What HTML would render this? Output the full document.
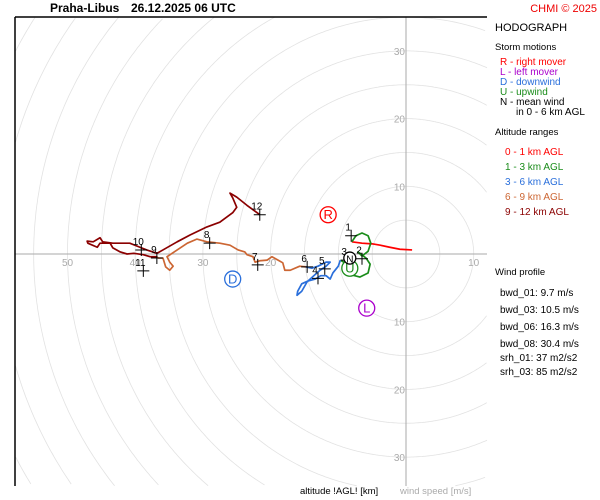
<!DOCTYPE html>
<html><head><meta charset="utf-8"><style>
html,body{margin:0;padding:0;background:#fff;width:600px;height:500px;overflow:hidden;}
svg{display:block;font-family:"Liberation Sans",sans-serif;overflow:hidden;}
</style></head><body>
<svg id="c" width="600" height="500" viewBox="0 0 600 500" xmlns="http://www.w3.org/2000/svg">
<rect x="0" y="0" width="600" height="500" fill="#fff"/>
<g id="rings"></g>
<line x1="15" y1="254" x2="487" y2="254" stroke="#aaa" stroke-width="1"/>
<line x1="406" y1="17" x2="406" y2="486" stroke="#aaa" stroke-width="1"/>
<g id="ticklabels" font-size="10" fill="#aaa"></g>
<g id="traces"></g>
<g id="markers" font-size="10"></g>
<g id="storms" font-size="11"></g>
<line x1="15" y1="17" x2="487" y2="17" stroke="#000" stroke-width="1.5"/>
<line x1="15" y1="17" x2="15" y2="486" stroke="#000" stroke-width="1.5"/>
<text x="50" y="12" font-size="12" font-weight="bold">Praha-Libus</text>
<text x="131" y="12" font-size="12" font-weight="bold">26.12.2025 06 UTC</text>
<text x="597" y="12" font-size="11" fill="#e00" text-anchor="end">CHMI © 2025</text>
<g font-size="10">
<text x="495" y="31" font-size="11">HODOGRAPH</text>
<text x="495" y="50" font-size="9.5">Storm motions</text>
<text x="500" y="65" fill="#f00">R - right mover</text>
<text x="500" y="75" fill="#a0c">L - left mover</text>
<text x="500" y="85" fill="#2a6fdb">D - downwind</text>
<text x="500" y="95" fill="#1a8c1a">U - upwind</text>
<text x="500" y="105" fill="#000">N - mean wind</text>
<text x="516" y="115" fill="#000">in 0 - 6 km AGL</text>
<text x="495" y="135" font-size="9.5">Altitude ranges</text>
<text x="505" y="155" fill="#f00">0 - 1 km AGL</text>
<text x="505" y="170" fill="#1a8c1a">1 - 3 km AGL</text>
<text x="505" y="185" fill="#2a6fdb">3 - 6 km AGL</text>
<text x="505" y="200" fill="#cc6633">6 - 9 km AGL</text>
<text x="505" y="215" fill="#8b0000">9 - 12 km AGL</text>
<text x="495" y="275" font-size="9.5">Wind profile</text>
<text x="500" y="296">bwd_01: 9.7 m/s</text>
<text x="500" y="313">bwd_03: 10.5 m/s</text>
<text x="500" y="330">bwd_06: 16.3 m/s</text>
<text x="500" y="347">bwd_08: 30.4 m/s</text>
<text x="500" y="361">srh_01: 37 m2/s2</text>
<text x="500" y="375">srh_03: 85 m2/s2</text>
</g>
<text x="300" y="494" font-size="9.5" fill="#000">altitude !AGL! [km]</text>
<text x="400" y="494" font-size="9.5" fill="#aaa">wind speed [m/s]</text>
</svg>
<script>
const ringSpeeds=[5,10,15,20,25,30,35,40,45,50,55,60,65,70,75];
const rightLabels=[10];
const leftLabels=[20,30,40,50];
const upLabels=[10,20,30];
const downLabels=[10,20,30];
const red_u=[0.9,-0.9,-2.4,-3.8,-5.0,-6.5,-8.0];
const red_v=[0.6,0.7,1.0,1.3,1.5,1.6,1.8];
const green_u=[-8.0,-7.4,-6.5,-5.6,-5.2,-5.6,-6.5,-7.1,-5.9,-5.3,-5.6,-6.8,-8.0,-8.9,-9.2,-9.7];
const green_v=[1.8,2.7,3.1,2.7,1.6,0.4,-0.3,0.3,-0.6,-1.5,-2.8,-3.4,-3.1,-2.4,-1.2,-0.9];
const blue_u=[-9.7,-10.0,-10.8,-11.2,-11.8,-12.6,-13.4,-14.5,-15.4,-16.0,-16.1,-15.4,-14.6,-13.6,-12.7,-11.8,-11.2,-11.8,-13.0,-13.9,-14.8];
const blue_v=[-0.9,-1.8,-2.8,-3.7,-3.2,-3.2,-3.7,-4.0,-4.4,-5.5,-6.1,-5.5,-4.1,-3.2,-2.4,-1.8,-1.2,-1.2,-1.8,-2.1,-1.9];
const orange_u=[-14.8,-15.7,-17.1,-17.9,-18.2,-18.9,-19.8,-20.5,-21.6,-22.3,-22.6,-23.5,-23.8,-24.8,-26.0,-27.5,-29.4,-30.9,-32.3,-33.8,-35.3,-34.9,-34.4,-34.9,-35.5,-35.9,-36.6,-36.8];
const orange_v=[-1.9,-1.8,-2.4,-2.4,-1.3,-0.9,-0.4,-0.9,-1.0,-1.2,-0.4,-0.1,0.3,0.6,1.3,1.6,1.8,2.2,1.6,0.6,-0.4,-1.2,-1.8,-2.4,-1.9,-0.6,-0.6,-0.4];
const dred_u=[-36.8,-37.8,-38.8,-40.2,-41.2,-42.2,-43.3,-43.7,-45.2,-45.6,-47.0,-47.1,-46.2,-45.2,-44.8,-43.3,-40.8,-39.3,-38.3,-36.8,-35.9,-33.8,-31.9,-29.4,-27.5,-25.6,-25.0,-25.6,-26.0,-25.0,-23.5,-21.6];
const dred_v=[-0.4,-0.4,-0.1,0.1,0.0,0.3,0.9,1.6,1.6,1.0,1.6,1.9,1.8,2.4,1.8,1.6,1.6,1.0,0.6,0.1,0.6,1.8,2.8,4.0,4.7,6.1,6.9,8.3,9.0,8.4,7.2,5.8];
const markerLabels=["1","2","3","4","5","6","7","8","9","10","11","12"];
const marker_u=[-8.1,-6.5,-8.7,-13.0,-12.0,-14.6,-21.9,-29.0,-36.8,-39.1,-38.8,-21.6];
const marker_v=[2.7,-0.7,-0.9,-3.6,-2.2,-1.9,-1.6,1.6,-0.6,0.6,-2.5,5.8];
const stormLabels=["R","L","D","U","N"];
const storm_u=[-11.5,-5.8,-25.6,-8.3,-8.3];
const storm_v=[5.8,-8.0,-3.7,-2.1,-0.6];

const CX=406,CY=254,K=6.77;
const BX0=15,BX1=487,BY0=17,BY1=486;
const X=u=>CX+u*K, Y=v=>CY-v*K;
const NS='http://www.w3.org/2000/svg';
function mk(tag,parent){const e=document.createElementNS(NS,tag);parent.appendChild(e);return e;}
const rings=document.getElementById('rings');
ringSpeeds.forEach(s=>{
  const r=s*K;let d='';let pen=false;
  for(let i=0;i<=720;i++){const a=i/720*2*Math.PI;const x=CX+r*Math.cos(a),y=CY+r*Math.sin(a);
    const inside=x>=BX0&&x<=BX1&&y>=BY0&&y<=BY1;
    if(inside){d+=(pen?'L':'M')+x.toFixed(1)+','+y.toFixed(1);pen=true;}else pen=false;}
  if(!d)return;
  const c=mk('path',rings);
  
  
  c.setAttribute('d',d);c.setAttribute('fill','none');c.setAttribute('stroke','#e2e2e2');c.setAttribute('stroke-width','0.8');});
const tl=document.getElementById('ticklabels');
function lab(x,y,t,anchor){const e=mk('text',tl);


e.setAttribute('x',x);e.setAttribute('y',y);e.setAttribute('text-anchor',anchor);e.textContent=t;}
rightLabels.forEach(s=>lab(X(s),CY+12,s,'middle'));
leftLabels.forEach(s=>lab(X(-s),CY+12,s,'middle'));
upLabels.forEach(s=>lab(CX-1,Y(s)+4,s,'end'));
downLabels.forEach(s=>lab(CX-1,Y(-s)+4,s,'end'));
const tr=document.getElementById('traces');
function trace(us,vs,col,name){const p=mk('polyline',tr);


p.setAttribute('points',us.map((u,i)=>X(u)+','+Y(vs[i])).join(' '));p.setAttribute('fill','none');p.setAttribute('stroke',col);p.setAttribute('stroke-width','1.7');p.setAttribute('stroke-linejoin','round');}
trace(red_u,red_v,'#f00','trace-0-1km');
trace(green_u,green_v,'#1a8c1a','trace-1-3km');
trace(blue_u,blue_v,'#2a6fdb','trace-3-6km');
trace(orange_u,orange_v,'#cc6633','trace-6-9km');
trace(dred_u,dred_v,'#8b0000','trace-9-12km');
const mg=document.getElementById('markers');
markerLabels.forEach((t,i)=>{const x=X(marker_u[i]),y=Y(marker_v[i]);
const p=mk('path',mg);


p.setAttribute('d',`M${x-6},${y}H${x+6}M${x},${y-6}V${y+6}`);p.setAttribute('stroke','#000');p.setAttribute('stroke-width','1');
const e=mk('text',mg);


e.setAttribute('x',x-3);e.setAttribute('y',y-5);e.setAttribute('text-anchor','middle');e.setAttribute('fill','#000');e.textContent=t;});
const sg=document.getElementById('storms');
const scol=['#f00','#a0c','#2a6fdb','#1a8c1a','#000'];
stormLabels.forEach((t,i)=>{const x=X(storm_u[i]),y=Y(storm_v[i]);
const c=mk('circle',sg);


c.setAttribute('cx',x);c.setAttribute('cy',y);c.setAttribute('r',t==='N'?6:8);c.setAttribute('fill','#fff');c.setAttribute('stroke',scol[i]);c.setAttribute('stroke-width','1.3');
const e=mk('text',sg);


e.setAttribute('x',x);e.setAttribute('y',y+4.5);e.setAttribute('text-anchor','middle');e.setAttribute('fill',scol[i]);e.setAttribute('font-size',t==='N'?'10':'13');e.textContent=t;});
</script>
</body></html>
